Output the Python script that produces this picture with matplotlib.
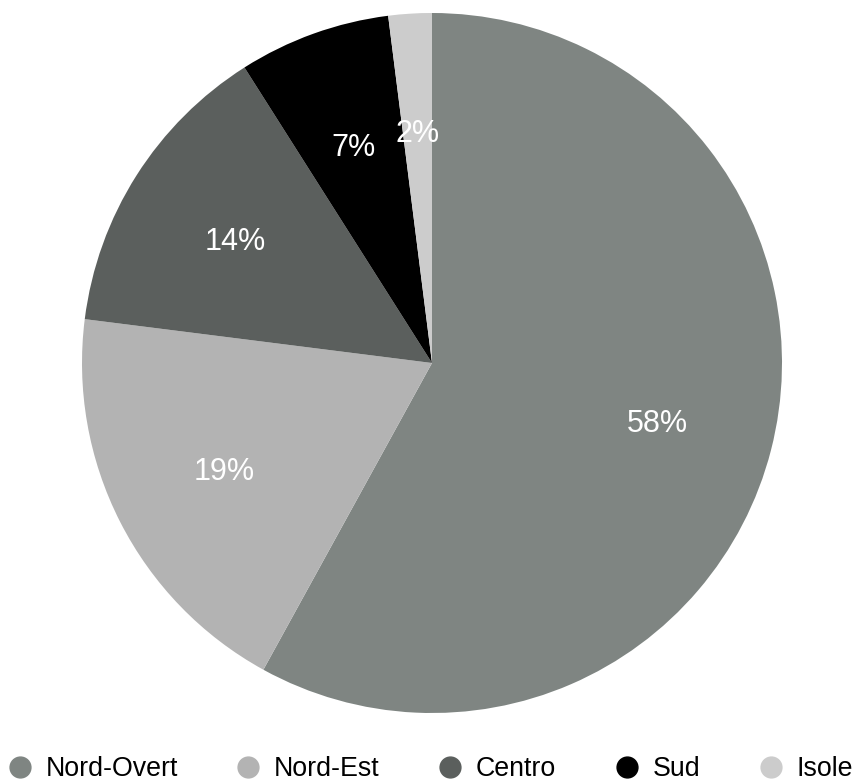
import matplotlib.pyplot as plt
from matplotlib.lines import Line2D

plt.rcParams['font.family'] = ['Liberation Sans', 'DejaVu Sans']

# -----------------------------
# DATA
# -----------------------------
regions = ["Nord-Overt", "Nord-Est", "Centro", "Sud", "Isole"]
shares = [58, 19, 14, 7, 2]
colors = ["#7f8582", "#b3b3b3", "#5b5f5d", "#000000", "#cccccc"]

W, H = 856, 783
fig = plt.figure(figsize=(W / 100, H / 100), dpi=100)

# pie area: centre (432, 363) px, radius 350 px
R = 350
cx, cy = 432, 363
ax = fig.add_axes([(cx - R) / W, (H - cy - R) / H, 2 * R / W, 2 * R / H])

wedges, texts, autotexts = ax.pie(
    shares, colors=colors, startangle=90, counterclock=False,
    radius=1.0, autopct='%d%%', pctdistance=0.665,
    textprops=dict(color='white', fontsize=22),
    wedgeprops=dict(linewidth=0))
for t in autotexts:
    t.set_verticalalignment('center_baseline')
ax.set_xlim(-1, 1)
ax.set_ylim(-1, 1)
ax.set_aspect('equal')
ax.axis('off')

# legend row along the bottom
handles = [Line2D([0], [0], marker='o', linestyle='none', markersize=15,
                  markerfacecolor=c, markeredgecolor=c) for c in colors]
fig.legend(handles, regions, loc='center', ncol=5, frameon=False,
           bbox_to_anchor=(431 / W, 1 - 769 / H), fontsize=19.3,
           handlelength=0.8, handletextpad=0.56, columnspacing=2.23,
           borderaxespad=0, borderpad=0)

fig.savefig("out.png", dpi=100)
